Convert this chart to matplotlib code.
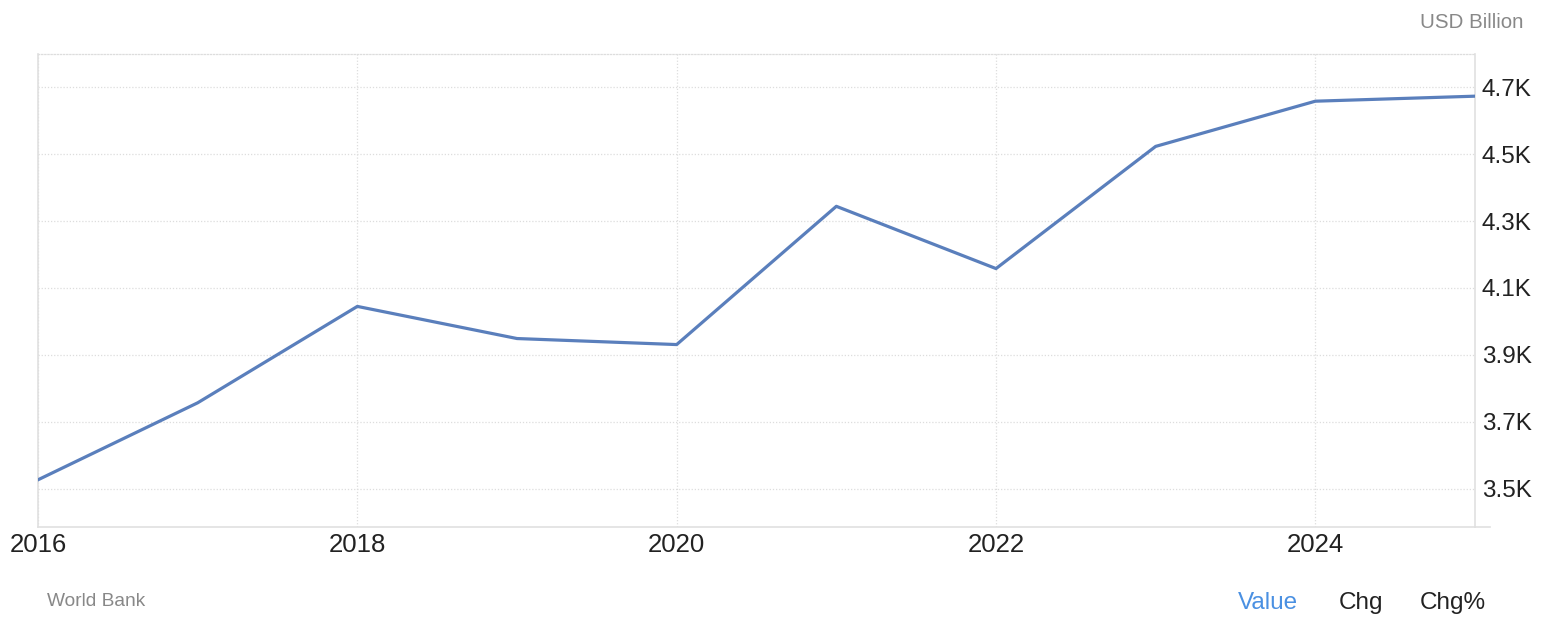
import matplotlib
matplotlib.use("Agg")
import matplotlib.pyplot as plt
from matplotlib.ticker import FixedLocator, FuncFormatter

years = [2016, 2017, 2018, 2019, 2020, 2021, 2022, 2023, 2024, 2025]
values = [3.527, 3.757, 4.045, 3.949, 3.931, 4.344, 4.158, 4.523, 4.658, 4.673]  # thousand USD billion
x_ticks = [2016, 2018, 2020, 2022, 2024]
y_ticks = [3.5, 3.7, 3.9, 4.1, 4.3, 4.5, 4.7]

plt.rcParams['font.family'] = ['Liberation Sans', 'DejaVu Sans']

fig = plt.figure(figsize=(15.42, 6.38), dpi=100)
ax = fig.add_axes([38/1542, 1 - 527/638, (1475-38)/1542, (527-54)/638])

ax.plot(years, values, color='#5A7FBC', lw=2.3, solid_joinstyle='round', zorder=3)

ax.set_xlim(2016, 2025)
ax.set_ylim(3.386, 4.799)
ax.xaxis.set_major_locator(FixedLocator(x_ticks))
ax.yaxis.set_major_locator(FixedLocator(y_ticks))
ax.yaxis.set_major_formatter(FuncFormatter(lambda v, p: f"{v:.1f}K"))
ax.yaxis.tick_right()

ax.grid(True, color='#dddddd', linestyle=(0, (1, 1.5)), linewidth=0.9)
for s in ['left', 'right', 'bottom']:
    ax.spines[s].set_color('#e0e0e0')
    ax.spines[s].set_linewidth(1.2)
ax.spines['top'].set_color('#dddddd')
ax.spines['top'].set_linestyle((0, (1, 1.5)))
ax.spines['top'].set_linewidth(0.9)

ax.tick_params(axis='x', length=0, pad=4, labelsize=18.5, labelcolor='#222222')
ax.tick_params(axis='y', length=0, pad=5, labelsize=17.5, labelcolor='#222222')

# extend bottom line a bit to the right
fig.add_artist(plt.Line2D([1475/1542, 1490/1542], [1 - 527/638, 1 - 527/638],
                          color='#e0e0e0', lw=1.2, transform=fig.transFigure))

fig.text(1524/1542, 1 - 22/638, "USD Billion", ha='right', va='center', fontsize=14.8, color='#888888')
fig.text(47/1542, 1 - 602/638, "World Bank", ha='left', va='center', fontsize=13.8, color='#888888')
fig.text(1268/1542, 1 - 603/638, "Value", ha='center', va='center', fontsize=17.5, color='#4a90e2')
fig.text(1361/1542, 1 - 603/638, "Chg", ha='center', va='center', fontsize=17.5, color='#222222')
fig.text(1453/1542, 1 - 603/638, "Chg%", ha='center', va='center', fontsize=17.5, color='#222222')

fig.savefig("out.png", dpi=100)
